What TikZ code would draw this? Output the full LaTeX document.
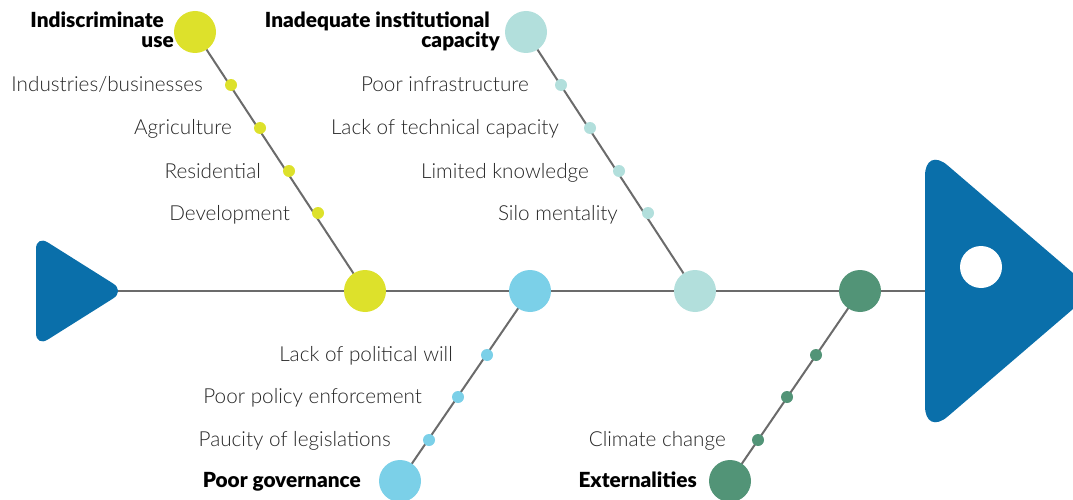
\documentclass[tikz,border=0pt]{standalone}
\usepackage{fontspec}
\setmainfont{Lato Light}[BoldFont=Lato Black]
\usetikzlibrary{backgrounds}
\definecolor{fishblue}{HTML}{0A6FAA}
\definecolor{ylw}{HTML}{DDE12B}
\definecolor{skyb}{HTML}{7BD0E8}
\definecolor{pale}{HTML}{B2DFDC}
\definecolor{grn}{HTML}{529477}
\definecolor{bone}{HTML}{6B6B6B}
\tikzset{
  bigdot/.style={circle, minimum size=42pt, inner sep=0pt},
  smalldot/.style={circle, minimum size=12pt, inner sep=0pt},
  lbl/.style={inner sep=0pt, text=black!85, font=\fontsize{20.7}{22}\selectfont},
  ttl/.style={inner sep=0pt, align=right, font=\fontsize{20.8}{20}\bfseries},
  bonestyle/.style={bone, line width=2pt}
}
\begin{document}
\begin{tikzpicture}[x=1pt, y=-1pt]
  \useasboundingbox (0,0) rectangle (1073,500);
  \clip (0,0) rectangle (1073,500);
  % tail and head
  \fill[fishblue, rounded corners=14pt] (36,235) -- (36,347) -- (125,291) -- cycle;
  \fill[fishblue, rounded corners=30pt] (925,146) -- (925,436) -- (1094,291) -- cycle;
  \fill[white] (981,267) circle (21);
  \coordinate (tailtip) at (117,291);
  \coordinate (headback) at (925,291);
  % circles on the spine
  \node[bigdot, fill=ylw] (y0) at (365,291) {};
  \node[bigdot, fill=skyb] (s0) at (530,291) {};
  \node[bigdot, fill=pale] (p0) at (695,291) {};
  \node[bigdot, fill=grn] (g0) at (860,291) {};
  % end circles of the bones
  \node[bigdot, fill=ylw] (ytop) at (195,32) {};
  \node[bigdot, fill=pale] (ptop) at (526,32) {};
  \node[bigdot, fill=skyb] (sbot) at (400,481) {};
  \node[bigdot, fill=grn] (gbot) at (730,481) {};
  % small dots
  \node[smalldot, fill=ylw] (y1) at (231,85) {};
  \node[smalldot, fill=ylw] (y2) at (260,128) {};
  \node[smalldot, fill=ylw] (y3) at (289,171) {};
  \node[smalldot, fill=ylw] (y4) at (318,213) {};
  \node[smalldot, fill=pale] (p1) at (561,85) {};
  \node[smalldot, fill=pale] (p2) at (590,128) {};
  \node[smalldot, fill=pale] (p3) at (619,171) {};
  \node[smalldot, fill=pale] (p4) at (648,213) {};
  \node[smalldot, fill=skyb] (s1) at (487,355) {};
  \node[smalldot, fill=skyb] (s2) at (458,397) {};
  \node[smalldot, fill=skyb] (s3) at (429,440) {};
  \node[smalldot, fill=grn] (g1) at (816,355) {};
  \node[smalldot, fill=grn] (g2) at (787,397) {};
  \node[smalldot, fill=grn] (g3) at (758,440) {};
  % spine and bones
  \begin{scope}[on background layer]
    \draw[bonestyle] (tailtip) -- (headback);
    \draw[bonestyle] (y0.center) -- (ytop.center);
    \draw[bonestyle] (p0.center) -- (ptop.center);
    \draw[bonestyle] (s0.center) -- (sbot.center);
    \draw[bonestyle] (g0.center) -- (gbot.center);
  \end{scope}
  % titles
  \node[ttl, anchor=north east] (tuse) at (174,12) {Indiscriminate\hspace*{10pt}\\use};
  \node[ttl, anchor=north east] (tinst) at (500,12) {Inadequate institutional\hspace*{10pt}\\capacity};
  \node[ttl, anchor=base east] (tgov) at (361,487) {Poor governance};
  \node[ttl, anchor=base east] (text) at (697,487) {Externalities};
  % causes
  \node[lbl, anchor=base east] (l1) at (203,92) {Industries/businesses};
  \node[lbl, anchor=base east] (l2) at (232,135) {Agriculture};
  \node[lbl, anchor=base east] (l3) at (261,178) {Residential};
  \node[lbl, anchor=base east] (l4) at (290,220) {Development};
  \node[lbl, anchor=base east] (l5) at (529,92) {Poor infrastructure};
  \node[lbl, anchor=base east] (l6) at (559,135) {Lack of technical capacity};
  \node[lbl, anchor=base east] (l7) at (589,178) {Limited knowledge};
  \node[lbl, anchor=base east] (l8) at (618,220) {Silo mentality};
  \node[lbl, anchor=base east] (l9) at (453,361) {Lack of political will};
  \node[lbl, anchor=base east] (l10) at (422,403) {Poor policy enforcement};
  \node[lbl, anchor=base east] (l11) at (391,446) {Paucity of legislations};
  \node[lbl, anchor=base east] (l12) at (726,446) {Climate change};
\end{tikzpicture}
\end{document}
